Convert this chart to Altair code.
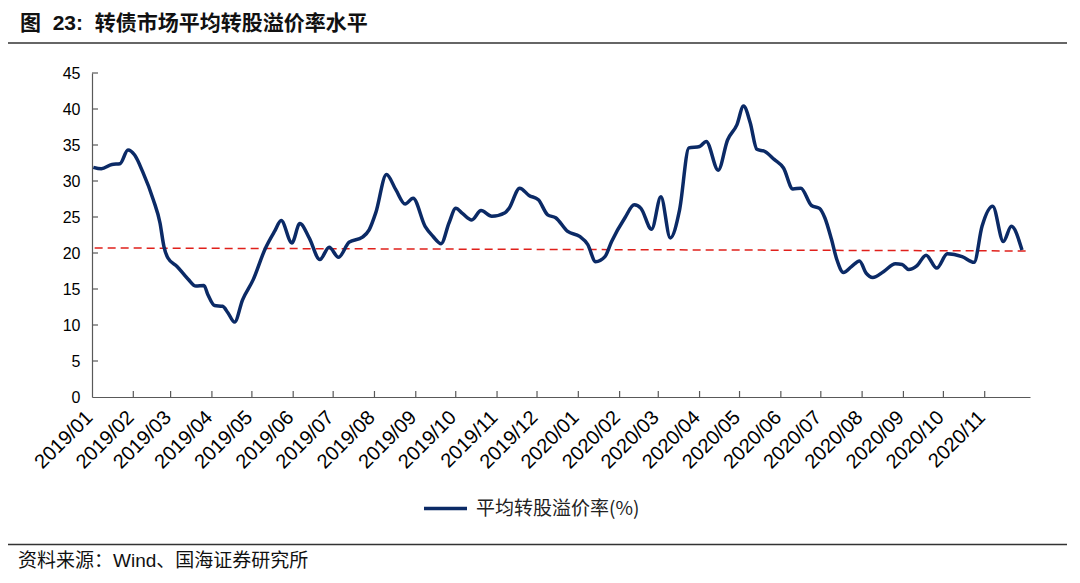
import altair as alt
import pandas as pd

# ---------------- data ----------------
dates = [
    "2019-01-02", "2019-01-08", "2019-01-16", "2019-01-22", "2019-01-28", "2019-02-02",
    "2019-02-08", "2019-02-16", "2019-02-21", "2019-02-24", "2019-02-27", "2019-03-06",
    "2019-03-14", "2019-03-20", "2019-03-26", "2019-03-29", "2019-04-03", "2019-04-09",
    "2019-04-13", "2019-04-18", "2019-04-24", "2019-05-02", "2019-05-11", "2019-05-18",
    "2019-05-23", "2019-05-31", "2019-06-06", "2019-06-13", "2019-06-21", "2019-06-28",
    "2019-07-05", "2019-07-13", "2019-07-23", "2019-07-28", "2019-08-02", "2019-08-10",
    "2019-08-17", "2019-08-24", "2019-08-30", "2019-09-08", "2019-09-14", "2019-09-20",
    "2019-09-26", "2019-10-01", "2019-10-06", "2019-10-13", "2019-10-20", "2019-10-28",
    "2019-11-07", "2019-11-10", "2019-11-18", "2019-11-25", "2019-12-02", "2019-12-09",
    "2019-12-15", "2019-12-24", "2020-01-02", "2020-01-08", "2020-01-14", "2020-01-21",
    "2020-01-26", "2020-02-05", "2020-02-12", "2020-02-17", "2020-02-25", "2020-03-03",
    "2020-03-10", "2020-03-17", "2020-03-24", "2020-04-01", "2020-04-06", "2020-04-15",
    "2020-04-22", "2020-04-29", "2020-05-04", "2020-05-09", "2020-05-14", "2020-05-20",
    "2020-05-27", "2020-06-03", "2020-06-10", "2020-06-16", "2020-06-24", "2020-06-30",
    "2020-07-04", "2020-07-09", "2020-07-13", "2020-07-18", "2020-07-24", "2020-07-30",
    "2020-08-04", "2020-08-09", "2020-08-17", "2020-08-26", "2020-08-31", "2020-09-05",
    "2020-09-11", "2020-09-18", "2020-09-26", "2020-10-04", "2020-10-15", "2020-10-24",
    "2020-10-30", "2020-11-07", "2020-11-15", "2020-11-21", "2020-11-29",
]
values = [
    31.9, 31.7, 32.3, 32.4, 34.3, 33.6,
    31.3, 27.4, 24.2, 20.9, 19.3, 18.1,
    16.4, 15.4, 15.5, 14.2, 12.7, 12.6,
    11.7, 10.4, 13.5, 16.3, 20.6, 23.0,
    24.5, 21.4, 24.1, 22.1, 19.1, 20.8,
    19.4, 21.5, 22.2, 23.2, 25.6, 30.9,
    28.8, 26.8, 27.6, 23.7, 22.3, 21.3,
    24.2, 26.2, 25.5, 24.6, 25.9, 25.1,
    25.6, 26.2, 29.0, 28.0, 27.4, 25.3,
    24.9, 23.0, 22.3, 21.2, 18.8, 19.5,
    21.6, 24.9, 26.7, 26.2, 23.3, 27.8,
    22.1, 26.0, 34.6, 34.8, 35.5, 31.5,
    35.7, 37.8, 40.4, 38.1, 34.4, 34.1,
    33.0, 31.8, 28.9, 29.0, 26.6, 26.2,
    24.9, 21.9, 19.1, 17.3, 18.1, 18.9,
    17.2, 16.6, 17.4, 18.5, 18.4, 17.7,
    18.2, 19.7, 17.9, 19.9, 19.5, 18.7,
    23.7, 26.5, 21.6, 23.7, 20.4,
]
trend_dates = ["2019-01-03", "2020-12-05"]
trend_values = [20.7, 20.28]

y_ticks = [0, 5, 10, 15, 20, 25, 30, 35, 40, 45]
x_tick_labels = [
    "2019/01", "2019/02", "2019/03", "2019/04", "2019/05", "2019/06", "2019/07",
    "2019/08", "2019/09", "2019/10", "2019/11", "2019/12", "2020/01", "2020/02",
    "2020/03", "2020/04", "2020/05", "2020/06", "2020/07", "2020/08", "2020/09",
    "2020/10", "2020/11",
]

series_name = "平均转股溢价率(%)"
NB = "\u00a0"
title_text = "图" + NB * 2 + "23:" + NB * 2 + "转债市场平均转股溢价率水平"
source_text = "资料来源：Wind、国海证券研究所"

# ---------------- layout / style ----------------
W, H = 938, 324
LINE_COLOR = "#0B2A66"
RED = "#E0201B"
AXIS_COLOR = "#595959"
FONT = "Liberation Sans, Noto Sans CJK SC"
CJK = "Noto Sans CJK SC"

tick_dates = [alt.DateTime(year=int(s[:4]), month=int(s[5:])) for s in x_tick_labels]

x_scale = alt.Scale(domain=[alt.DateTime(year=2019, month=1, date=1),
                            alt.DateTime(year=2020, month=12, date=5)])
y_scale = alt.Scale(domain=[0, 45], nice=False)

x_axis = alt.Axis(values=tick_dates, format="%Y/%m", labelAngle=-45,
                  labelAlign="right", labelBaseline="middle", labelPadding=17,
                  labelOffset=-3,
                  labelFontSize=20, labelFont=FONT, labelColor="#000000",
                  ticks=False, grid=False, domainColor=AXIS_COLOR, domainWidth=1.2,
                  title=None, labelOverlap=False)
y_axis = alt.Axis(values=y_ticks, labelPadding=12, labelFontSize=16, labelFont=FONT,
                  labelColor="#000000", ticks=False, grid=False,
                  domainColor=AXIS_COLOR, domainWidth=1.2, title=None)

df = pd.DataFrame({"date": pd.to_datetime(dates), "value": values, "series": series_name})
trend_df = pd.DataFrame({"date": pd.to_datetime(trend_dates), "value": trend_values})

line = alt.Chart(df).mark_line(strokeWidth=3.5, interpolate="monotone").encode(
    x=alt.X("date:T", scale=x_scale, axis=x_axis),
    y=alt.Y("value:Q", scale=y_scale, axis=y_axis),
    color=alt.Color("series:N",
                    scale=alt.Scale(domain=[series_name], range=[LINE_COLOR]),
                    legend=alt.Legend(orient="none", legendX=330, legendY=412, title=None,
                                      symbolType="stroke", symbolSize=1850,
                                      symbolStrokeWidth=3.5, labelFontSize=19,
                                      labelFont=CJK, labelColor="#222222",
                                      labelOffset=7, labelLimit=400)),
)

trend = alt.Chart(trend_df).mark_line(color=RED, strokeWidth=1.5, strokeDash=[8, 5]).encode(
    x=alt.X("date:T", scale=x_scale, axis=x_axis),
    y=alt.Y("value:Q", scale=y_scale, axis=y_axis),
)

ytick_df = pd.DataFrame({"v": y_ticks[1:]})
yticks = alt.Chart(ytick_df).mark_rule(color=AXIS_COLOR, strokeWidth=1.2).encode(
    y=alt.Y("v:Q", scale=y_scale, axis=y_axis),
    x=alt.value(0), x2=alt.value(6),
)

xtick_df = pd.DataFrame({"d": pd.to_datetime([s.replace("/", "-") + "-01" for s in x_tick_labels[1:]])})
xticks = alt.Chart(xtick_df).mark_rule(color=AXIS_COLOR, strokeWidth=1.2).encode(
    x=alt.X("d:T", scale=x_scale, axis=x_axis),
    y=alt.value(H), y2=alt.value(H - 6),
)

title = alt.Chart(pd.DataFrame({"t": [title_text]})).mark_text(
    align="left", baseline="middle", fontSize=21, fontWeight="bold", font=FONT, color="#111111"
).encode(text="t:N", x=alt.value(-72), y=alt.value(-49))

source = alt.Chart(pd.DataFrame({"t": [source_text]})).mark_text(
    align="left", baseline="middle", fontSize=19, font=FONT, color="#111111"
).encode(text="t:N", x=alt.value(-74), y=alt.value(487.5))

top_rule = alt.Chart(pd.DataFrame({"a": [0]})).mark_rule(color="#333333", strokeWidth=1.5).encode(
    x=alt.value(-87), x2=alt.value(975), y=alt.value(-30))
bottom_rule = alt.Chart(pd.DataFrame({"a": [0]})).mark_rule(color="#333333", strokeWidth=1.5).encode(
    x=alt.value(-87), x2=alt.value(975), y=alt.value(471.5))

chart = alt.layer(trend, line, yticks, xticks, title, source, top_rule, bottom_rule).properties(
    width=W, height=H,
    autosize=alt.AutoSizeParams(type="none"),
    padding={"left": 84, "top": 65, "right": 42, "bottom": 178},
).configure_view(stroke=None)

chart.save("out.html", embed_options={"renderer": "svg", "actions": False})
